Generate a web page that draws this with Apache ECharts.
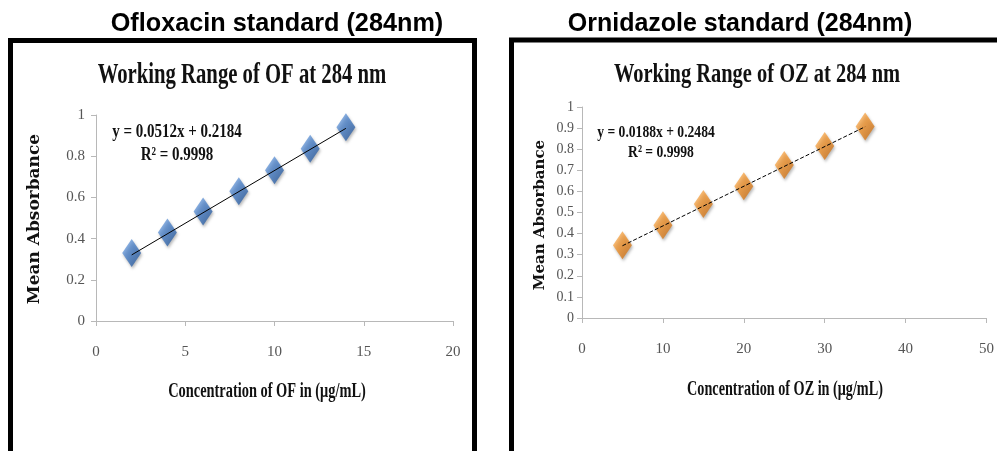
<!DOCTYPE html>
<html><head><meta charset="utf-8">
<script src="https://cdn.jsdelivr.net/npm/echarts@6/dist/echarts.min.js"></script>
<style>html,body{margin:0;padding:0;background:#fff}#c{width:997px;height:451px}</style>
</head><body><div id="c"></div>
<script>
// ---- data ----
const ofConc = [2, 4, 6, 8, 10, 12, 14];
const ofAbs = [0.33, 0.43, 0.532, 0.63, 0.732, 0.836, 0.94];
const ofTrendX = [2, 14];
const ofTrendY = [0.3208, 0.9352];
const ozConc = [5, 10, 15, 20, 25, 30, 35];
const ozAbs = [0.345, 0.44, 0.54, 0.625, 0.725, 0.815, 0.908];
const ozTrendX = [5, 35];
const ozTrendY = [0.3424, 0.9064];
const panelTitles = ['Ofloxacin standard (284nm)', 'Ornidazole standard (284nm)'];
const chartTitles = ['Working Range of OF at 284 nm', 'Working Range of OZ at 284 nm'];
const equations = ['y = 0.0512x + 0.2184', 'y = 0.0188x + 0.2484'];
const r2Labels = ['R² = 0.9998', 'R² = 0.9998'];
const xNames = ['Concentration of OF in (μg/mL)', 'Concentration of OZ in (μg/mL)'];
const yName = 'Mean Absorbance';

const chart = echarts.init(document.getElementById('c'), null, {renderer: 'canvas'});
const serif = '"Liberation Serif", "DejaVu Serif", serif';

function txt(str, x, y, size, opts) {
  opts = opts || {};
  return {
    type: 'text', x: x, y: y, rotation: opts.rotation || 0,
    scaleX: opts.scaleX || 1, scaleY: opts.scaleY || 1, z: 10,
    style: {
      text: str, x: 0, y: 0, align: 'center', verticalAlign: 'middle',
      fontFamily: opts.family || serif, fontSize: size,
      fontWeight: opts.weight || 'bold', fill: opts.color || '#111'
    }
  };
}

const blueGrad = new echarts.graphic.LinearGradient(0, 0, 1, 1, [
  {offset: 0, color: '#8db6ea'}, {offset: 0.45, color: '#4a80c8'}, {offset: 1, color: '#1f4e8e'}]);
const orangeGrad = new echarts.graphic.LinearGradient(0, 0, 1, 1, [
  {offset: 0, color: '#fbc27a'}, {offset: 0.45, color: '#f0932e'}, {offset: 1, color: '#c0650f'}]);

const axisLine = {lineStyle: {color: '#b8b8b8', width: 1}};
const tickLabel = {fontFamily: serif, fontSize: 15, color: '#555'};

const option = {
  animation: false,
  backgroundColor: '#fff',
  grid: [
    {left: 96, top: 115, width: 357, height: 206},
    {left: 582, top: 107, width: 405, height: 211}
  ],
  xAxis: [
    {gridIndex: 0, type: 'value', min: 0, max: 20, interval: 5, splitLine: {show: false},
     axisLine: axisLine, axisTick: {show: true, length: 5, lineStyle: {color: '#b8b8b8'}},
     axisLabel: Object.assign({margin: 24}, tickLabel)},
    {gridIndex: 1, type: 'value', min: 0, max: 50, interval: 10, splitLine: {show: false},
     axisLine: axisLine, axisTick: {show: true, length: 5, lineStyle: {color: '#b8b8b8'}},
     axisLabel: Object.assign({margin: 24}, tickLabel)}
  ],
  yAxis: [
    {gridIndex: 0, type: 'value', min: 0, max: 1, interval: 0.2, splitLine: {show: false},
     axisLine: Object.assign({show: true}, axisLine), axisTick: {show: true, length: 5, lineStyle: {color: '#b8b8b8'}},
     axisLabel: Object.assign({margin: 11}, tickLabel)},
    {gridIndex: 1, type: 'value', min: 0, max: 1, interval: 0.1, splitLine: {show: false},
     axisLine: Object.assign({show: true}, axisLine), axisTick: {show: true, length: 5, lineStyle: {color: '#b8b8b8'}},
     axisLabel: Object.assign({margin: 8}, tickLabel, {fontSize: 14})}
  ],
  series: [
    {type: 'scatter', xAxisIndex: 0, yAxisIndex: 0, symbol: 'diamond', symbolSize: [19, 28], z: 2,
     itemStyle: {color: blueGrad, shadowColor: 'rgba(0,0,0,0.35)', shadowBlur: 3, shadowOffsetX: 1, shadowOffsetY: 2},
     data: ofConc.map((x, i) => [x, ofAbs[i]])},
    {type: 'line', xAxisIndex: 0, yAxisIndex: 0, symbol: 'none', z: 3,
     lineStyle: {color: '#000', width: 1},
     data: ofTrendX.map((x, i) => [x, ofTrendY[i]])},
    {type: 'scatter', xAxisIndex: 1, yAxisIndex: 1, symbol: 'diamond', symbolSize: [19, 28], z: 2,
     itemStyle: {color: orangeGrad, shadowColor: 'rgba(0,0,0,0.35)', shadowBlur: 3, shadowOffsetX: 1, shadowOffsetY: 2},
     data: ozConc.map((x, i) => [x, ozAbs[i]])},
    {type: 'line', xAxisIndex: 1, yAxisIndex: 1, symbol: 'none', z: 3,
     lineStyle: {color: '#000', width: 1, type: [4, 2]},
     data: ozTrendX.map((x, i) => [x, ozTrendY[i]])}
  ],
  graphic: [
    {type: 'rect', shape: {x: 10.5, y: 40.5, width: 464, height: 430}, style: {fill: 'none', stroke: '#000', lineWidth: 5}, z: 1},
    {type: 'rect', shape: {x: 511.5, y: 40, width: 500, height: 430}, style: {fill: 'none', stroke: '#000', lineWidth: 5}, z: 1},
    txt(panelTitles[0], 277, 24, 25, {family: '"Liberation Sans", Arial, sans-serif', color: '#000', scaleX: 1.01}),
    txt(panelTitles[1], 740, 24, 25, {family: '"Liberation Sans", Arial, sans-serif', color: '#000', scaleX: 1.0}),
    txt(chartTitles[0], 242, 75, 30, {scaleX: 0.69}),
    txt(chartTitles[1], 757, 75, 28, {scaleX: 0.73}),
    txt(equations[0], 177, 132, 19, {scaleX: 0.79}),
    txt(r2Labels[0], 177, 155, 19, {scaleX: 0.79}),
    txt(equations[1], 656, 133, 17, {scaleX: 0.8}),
    txt(r2Labels[1], 661, 153, 17, {scaleX: 0.8}),
    txt(yName, 35, 219, 17, {rotation: Math.PI / 2, family: '"DejaVu Serif", serif'}),
    txt(yName, 540, 215, 15, {rotation: Math.PI / 2, family: '"DejaVu Serif", serif'}),
    txt(xNames[0], 267, 392, 20, {scaleX: 0.72}),
    txt(xNames[1], 785, 390, 20, {scaleX: 0.71})
  ]
};
chart.setOption(option);
</script>
</body></html>
